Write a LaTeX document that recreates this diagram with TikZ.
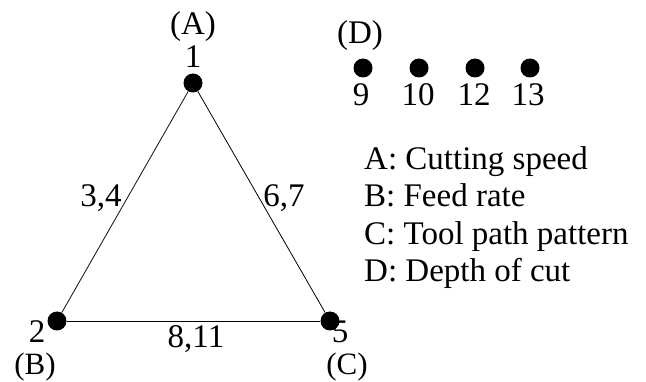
\documentclass[tikz,border=0pt]{standalone}
\usepackage{fontspec}
\setmainfont{Liberation Serif}
\usepackage{tikz}
\usetikzlibrary{positioning}
\tikzset{
  factor/.style={circle,fill=black,inner sep=0pt,minimum width=18pt,minimum height=19pt},
  runlbl/.style={font=\fontsize{33}{36}\selectfont,inner sep=0pt},
  edgelbl/.style={font=\fontsize{33}{36}\selectfont,inner sep=0pt,anchor=base},
  legend/.style={font=\fontsize{33}{36}\selectfont,inner sep=0pt,anchor=base west},
  link/.style={line width=0.8pt}
}

\begin{document}
\begin{tikzpicture}[x=1pt,y=-1pt]
  \useasboundingbox (0,0) rectangle (646,382);
  % triangle of factors
  \node[factor] (n1) at (193,83) {};
  \node[factor] (n2) at (57,321) {};
  \node[factor] (n5) at (330,321) {};
  \draw[link] (n1)--(n2);
  \draw[link] (n1)--(n5);
  \draw[link] (n2)--(n5);
  \node[edgelbl] (e34) at (101,207) {3,4};
  \node[edgelbl] (e67) at (284,207) {6,7};
  \node[edgelbl] (e811) at (196,348) {8,11};
  % vertex labels
  \node[runlbl] (r1) at (193,57) {1};
  \node[runlbl] (fA) at (193,27) {(A)};
  \node[runlbl,anchor=base] (r2) at (37,343) {2};
  \node[runlbl,anchor=base,font=\fontsize{31}{34}\selectfont] (fB) at (35,375) {(B)};
  \node[runlbl,anchor=base] (r5) at (340,343) {5};
  \node[runlbl,anchor=base,font=\fontsize{31}{34}\selectfont] (fC) at (347,375) {(C)};
  % factor D
  \node[runlbl] (fD) at (360,36) {(D)};
  \node[factor] (d9) at (363,68) {};
  \node[factor] (d10) at (419,68) {};
  \node[factor] (d12) at (475,68) {};
  \node[factor] (d13) at (530,68) {};
  \node[runlbl] (r9) at (361,95) {9};
  \node[runlbl] (r10) at (418,95) {10};
  \node[runlbl] (r12) at (474,95) {12};
  \node[runlbl] (r13) at (528,95) {13};
  % legend
  \node[legend] (lA) at (364,170) {A: Cutting speed};
  \node[legend] (lB) at (364,207) {B: Feed rate};
  \node[legend] (lC) at (364,245) {C: Tool path pattern};
  \node[legend] (lD) at (364,282) {D: Depth of cut};
\end{tikzpicture}
\end{document}
